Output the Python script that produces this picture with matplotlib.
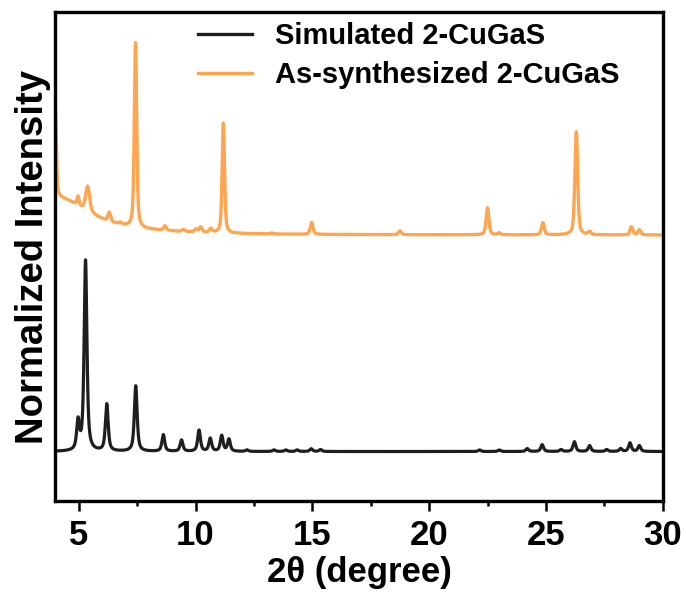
import numpy as np
import matplotlib
matplotlib.use("Agg")
import matplotlib.pyplot as plt
from matplotlib.ticker import MultipleLocator

plt.rcParams["font.family"] = ["Liberation Sans", "DejaVu Sans"]
plt.rcParams["font.weight"] = "bold"

# peak tables (2theta in degree, intensity in % of tallest peak)
sim_pos = [4.97, 5.29, 6.20, 7.44, 8.62, 9.40, 10.15, 10.63, 11.12, 11.43,
           12.20, 13.36, 13.86, 14.35, 14.95, 15.35, 22.16, 23.00, 24.20,
           24.84, 25.65, 26.22, 26.87, 27.60, 28.20, 28.60, 29.00]
sim_int = [14.5, 97.5, 24.0, 33.5, 8.5, 5.8, 10.8, 6.6, 8.0, 6.2,
           0.8, 0.8, 0.8, 0.8, 1.4, 1.0, 0.8, 0.8, 1.5,
           3.5, 1.0, 5.0, 3.0, 1.0, 1.5, 4.4, 3.0]
sim_hwhm = 0.07

# first three entries: low-angle background of the measured pattern
exp_pos = [4.0, 4.0, 4.0, 4.97, 5.38, 6.31, 6.77, 7.43, 8.69, 9.48, 10.02,
           10.22, 10.65, 11.19, 13.26, 14.97, 18.75, 22.50, 23.00, 24.87,
           26.30, 26.87, 28.66, 29.00]
exp_int = [45.0, 15.3, 4.1, 4.6, 12.8, 4.6, 1.0, 94.6, 2.3, 1.0, 1.5,
           2.6, 2.0, 56.3, 0.5, 6.1, 2.0, 13.8, 1.0, 6.1,
           52.7, 1.5, 4.1, 2.6]
exp_hwhm = [0.05, 1.5, 4.0, 0.05, 0.10, 0.07, 0.07, 0.06, 0.07, 0.07, 0.07,
            0.07, 0.07, 0.06, 0.07, 0.07, 0.07, 0.07, 0.07, 0.07,
            0.07, 0.07, 0.07, 0.07]
exp_offset = 110.7

labels = ["Simulated 2-CuGaS", "As-synthesized 2-CuGaS"]
colors = ["#1e1e1e", "#ffa54f"]


def profile(x, pos, inten, hwhm, eta=0.6):
    y = np.zeros_like(x)
    hwhm = np.broadcast_to(hwhm, (len(pos),))
    for p, h, w in zip(pos, inten, hwhm):
        d = (x - p) / w
        lor = 1.0 / (1.0 + d ** 2)
        gau = np.exp(-np.log(2) * d ** 2)
        y += h * (eta * lor + (1 - eta) * gau)
    return y


x = np.arange(4.0, 30.0001, 0.004)
y_sim = profile(x, sim_pos, sim_int, sim_hwhm, eta=0.7)
y_exp = profile(x, exp_pos, exp_int, exp_hwhm, eta=0.5) + exp_offset

fig = plt.figure(figsize=(6.86, 5.92), dpi=100)
ax = fig.add_axes([55.4 / 686, 1 - 501 / 592, 607.3 / 686, 489 / 592])

ax.plot(x, y_sim, color=colors[0], lw=2.3, label=labels[0])
ax.plot(x, y_exp, color=colors[1], lw=2.4, label=labels[1])

ax.set_xlim(4, 30)
ax.set_ylim(-25.3, 224.8)
ax.xaxis.set_major_locator(MultipleLocator(5))
ax.xaxis.set_minor_locator(MultipleLocator(2.5))
ax.set_yticks([])
ax.tick_params(axis="x", which="major", direction="out", length=7, width=1.8,
               labelsize=25, pad=6)
ax.tick_params(axis="x", which="minor", direction="out", length=3.5, width=1.8)
for lab in ax.get_xticklabels():
    lab.set_fontweight("bold")
for sp in ax.spines.values():
    sp.set_linewidth(2.4)

ax.set_xlabel("2θ (degree)", fontsize=25, fontweight="bold", labelpad=3)
ax.set_ylabel("Normalized Intensity", fontsize=27.5, fontweight="bold", labelpad=3)

leg = ax.legend(loc="upper left",
                bbox_to_anchor=((198 - 55.4) / 607.3, 1 - 10 / 489),
                frameon=False, prop={"size": 21, "weight": "bold"},
                handlelength=1.85, handletextpad=0.79, labelspacing=0.39,
                borderaxespad=0, borderpad=0)
for line in leg.get_lines():
    line.set_linewidth(2.4)

fig.savefig("out.png", dpi=100)
